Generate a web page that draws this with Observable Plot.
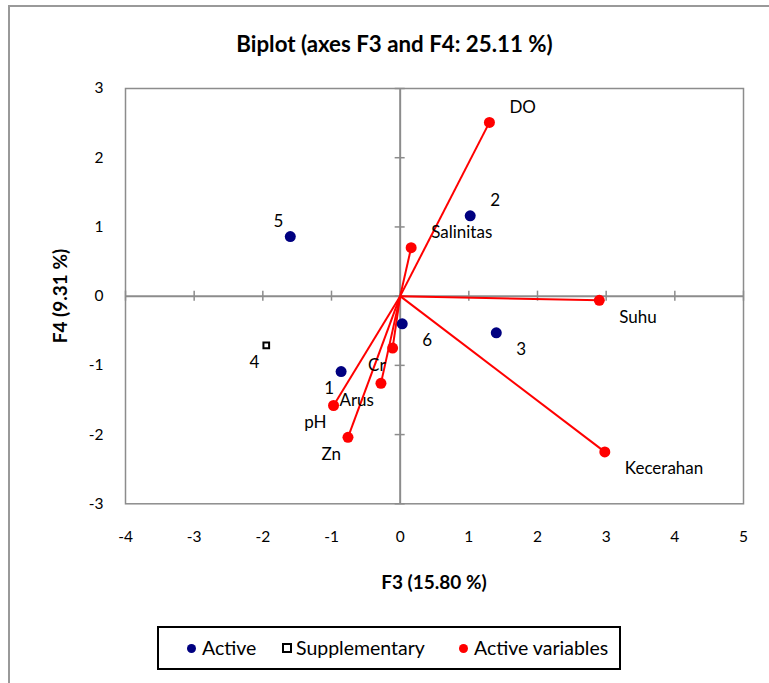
<!DOCTYPE html>
<html>
<head>
<meta charset="utf-8">
<script src="https://cdn.jsdelivr.net/npm/d3@7"></script>
<script src="https://cdn.jsdelivr.net/npm/@observablehq/plot@0.6"></script>
<style>
  html, body { margin: 0; padding: 0; background: #fff; }
  #wrap { position: relative; width: 769px; height: 683px; overflow: hidden; font-family: Lato, "Open Sans", sans-serif; }
  #border { position: absolute; left: 8px; top: 5px; right: -10px; bottom: -10px; border-left: 2px solid #999; border-top: 2px solid #999; }
  #title { position: absolute; left: 0; width: 789px; top: 30px; line-height: 28px; text-align: center; font-weight: bold; font-size: 22.3px; color: #000; }
  #chart { position: absolute; left: 0; top: 60px; }
  #xlabel { position: absolute; left: 334px; width: 200px; top: 570px; line-height: 24px; text-align: center; font-weight: bold; font-size: 19px; }
  #ylabel { position: absolute; left: -40px; width: 200px; top: 284px; line-height: 24px; text-align: center; font-weight: bold; font-size: 19px; transform: rotate(-90deg); }
  #legend { position: absolute; left: 157px; top: 626px; width: 460px; height: 40px; border: 2px solid #000; font-size: 19.5px; color: #000; }
  .item { position: absolute; top: 0; height: 40px; line-height: 40px; white-space: nowrap; }
  .sw { position: absolute; top: 16px; }
  .dot { width: 9px; height: 9px; border-radius: 50%; }
  .sq { width: 6px; height: 6px; border: 2px solid #000; top: 15px; }
  .txt { position: absolute; left: 15px; top: 0; }
</style>
</head>
<body>
<div id="wrap">
  <div id="border"></div>
  <div id="title">Biplot (axes F3 and F4: 25.11 %)</div>
  <div id="chart"></div>
  <div id="xlabel">F3 (15.80 %)</div>
  <div id="ylabel">F4 (9.31 %)</div>
  <div id="legend">
    <div class="item" style="left:28px"><span class="sw dot" style="background:#000080;left:0"></span><span class="txt">Active</span></div>
    <div class="item" style="left:123px"><span class="sw sq" style="left:0"></span><span class="txt" style="left:14px">Supplementary</span></div>
    <div class="item" style="left:300px"><span class="sw dot" style="background:#ff0000;left:0"></span><span class="txt">Active variables</span></div>
  </div>
</div>
<script>
// Active observations
const obsLabels = ["1", "2", "3", "5", "6"];
const obsF3 = [-0.86, 1.02, 1.40, -1.60, 0.03];
const obsF4 = [-1.09, 1.16, -0.53, 0.86, -0.40];
// Supplementary observations
const supLabels = ["4"];
const supF3 = [-1.95];
const supF4 = [-0.71];
// Active variables
const varLabels = ["DO", "Salinitas", "Suhu", "Kecerahan", "Cr", "Arus", "pH", "Zn"];
const varF3 = [1.30, 0.16, 2.90, 2.98, -0.11, -0.28, -0.97, -0.76];
const varF4 = [2.51, 0.70, -0.06, -2.25, -0.75, -1.26, -1.58, -2.04];
// Ticks
const xTicks = [-4, -3, -2, -1, 0, 1, 2, 3, 4, 5];
const yTicks = [-3, -2, -1, 0, 1, 2, 3];

const obs = obsLabels.map((l, i) => ({label: l, x: obsF3[i], y: obsF4[i]}));
const sup = supLabels.map((l, i) => ({label: l, x: supF3[i], y: supF4[i]}));
const vars = varLabels.map((l, i) => ({label: l, x: varF3[i], y: varF4[i]}));
const all = [...obs, ...sup, ...vars];

const font = "Lato, 'Open Sans', sans-serif";

function labelMarks(data) {
  const marks = [];
  for (const right of [true, false]) {
    for (const up of [true, false]) {
      marks.push(Plot.text(data.filter(d => (d.x >= 0) === right && (d.y > 0) === up), {
        x: "x", y: "y", text: "label",
        dx: right ? 20 : -7, dy: up ? -15 : 17,
        textAnchor: right ? "start" : "end",
        fontSize: 17, fill: "#000", fontFamily: font
      }));
    }
  }
  return marks;
}

const W = 769, H = 540;
const plot = Plot.plot({
  width: W, height: H,
  marginLeft: 125, marginRight: 26, marginTop: 28, marginBottom: 96.7,
  style: {fontFamily: font, background: "transparent", overflow: "visible"},
  x: {domain: [-4, 5], ticks: xTicks, tickSize: 0, tickPadding: 27, tickFormat: d => String(d), label: null},
  y: {domain: [-3, 3], ticks: yTicks, tickSize: 0, tickPadding: 22, tickFormat: d => String(d), label: null},
  marks: [
    Plot.frame({stroke: "#8c8c8c", strokeWidth: 1.5}),
    Plot.ruleX([0], {stroke: "#8c8c8c", strokeWidth: 2}),
    Plot.ruleY([0], {stroke: "#8c8c8c", strokeWidth: 2}),
    Plot.ruleX(xTicks, {x: d => d, y1: 0, y2: 0, insetTop: -5, insetBottom: -5, stroke: "#8c8c8c", strokeWidth: 1.5}),
    Plot.ruleY(yTicks, {y: d => d, x1: 0, x2: 0, insetLeft: -5, insetRight: -5, stroke: "#8c8c8c", strokeWidth: 1.5}),
    Plot.link(vars, {x1: 0, y1: 0, x2: "x", y2: "y", stroke: "#ff0000", strokeWidth: 2}),
    Plot.dot(vars, {x: "x", y: "y", r: 5.5, fill: "#ff0000"}),
    Plot.dot(obs, {x: "x", y: "y", r: 5.5, fill: "#000080"}),
    Plot.dot(sup, {x: "x", y: "y", r: 3.2, symbol: "square", fill: "#fff", stroke: "#000", strokeWidth: 2}),
    ...labelMarks(all)
  ]
});
plot.querySelectorAll("g[aria-label='x-axis tick label'], g[aria-label='y-axis tick label']").forEach(g => {
  g.setAttribute("font-size", "15.5"); g.setAttribute("fill", "#000");
});
document.getElementById("chart").appendChild(plot);
</script>
</body>
</html>
